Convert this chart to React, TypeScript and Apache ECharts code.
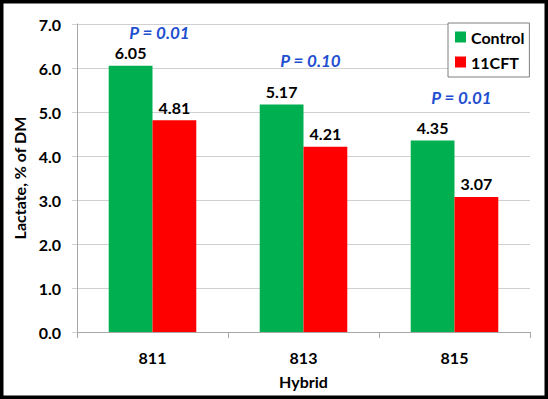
import React, { useEffect, useRef } from "react";
import * as echarts from "echarts";

const categories = ["811", "813", "815"];
const controlValues = [6.05, 5.17, 4.35];
const cftValues = [4.81, 4.21, 3.07];
const pTexts = ["P = 0.01", "P = 0.10", "P = 0.01"];
const pLabelY = [6.8, 6.18, 5.34];
const yTicks = [0, 1, 2, 3, 4, 5, 6, 7];

const FONT = "Lato, 'Open Sans', sans-serif";

export default function App() {
  const ref = useRef<HTMLDivElement>(null);
  useEffect(() => {
    if (!ref.current) return;
    const chart = echarts.init(ref.current, null, { renderer: "svg" });
    chart.setOption({
      animation: false,
      backgroundColor: "#ffffff",
      textStyle: { fontFamily: FONT },
      graphic: [
        {
          type: "rect",
          z: 100,
          silent: true,
          shape: { x: 0, y: 0, width: 548, height: 399 },
          style: { fill: "none", stroke: "#000", lineWidth: 7 },
        },
      ],
      grid: { left: 77, right: 18, top: 24, bottom: 67 },
      legend: {
        data: ["Control", "11CFT"],
        orient: "vertical",
        left: 448,
        top: 23,
        padding: [6, 5, 7, 7],
        itemWidth: 11,
        itemHeight: 11,
        itemGap: 9,
        borderColor: "#7f7f7f",
        borderWidth: 1,
        backgroundColor: "#fff",
        icon: "rect",
        textStyle: { fontFamily: FONT, fontSize: 16, fontWeight: "bold", color: "#000", lineHeight: 16 },
      },
      xAxis: {
        type: "category",
        data: categories,
        name: "Hybrid",
        nameLocation: "middle",
        nameGap: 41,
        nameTextStyle: { fontFamily: FONT, fontSize: 16, fontWeight: "bold", color: "#000" },
        axisLine: { lineStyle: { color: "#a6a6a6" } },
        axisTick: { show: true, length: 6, alignWithLabel: false, lineStyle: { color: "#a6a6a6" } },
        axisLabel: { fontFamily: FONT, fontSize: 16, fontWeight: "bold", color: "#000", margin: 17 },
      },
      yAxis: {
        type: "value",
        min: yTicks[0],
        max: yTicks[yTicks.length - 1],
        interval: 1,
        name: "Lactate, % of DM",
        nameLocation: "middle",
        nameGap: 50,
        nameTextStyle: { fontFamily: FONT, fontSize: 16, fontWeight: "bold", color: "#000" },
        axisLine: { show: true, lineStyle: { color: "#a6a6a6" } },
        axisTick: { show: true, length: 5, lineStyle: { color: "#d0d0d0" } },
        splitLine: { show: true, lineStyle: { color: "#d0d0d0" } },
        axisLabel: {
          fontFamily: FONT,
          fontSize: 16,
          fontWeight: "bold",
          color: "#000",
          margin: 16,
          formatter: (v: number) => v.toFixed(1),
        },
      },
      series: [
        {
          name: "Control",
          type: "bar",
          data: controlValues,
          barGap: "0%",
          barCategoryGap: "42%",
          itemStyle: { color: "#00b050" },
          label: {
            show: true,
            position: "top",
            distance: 5,
            fontFamily: FONT,
            fontSize: 16,
            fontWeight: "bold",
            color: "#000",
            formatter: (p: any) => p.value.toFixed(2),
          },
        },
        {
          name: "11CFT",
          type: "bar",
          data: cftValues,
          itemStyle: { color: "#ff0000" },
          label: {
            show: true,
            position: "top",
            distance: 5,
            fontFamily: FONT,
            fontSize: 16,
            fontWeight: "bold",
            color: "#000",
            formatter: (p: any) => p.value.toFixed(2),
          },
        },
        {
          name: "P",
          type: "scatter",
          data: pLabelY,
          symbolSize: 0,
          z: 5,
          itemStyle: { color: "#2050c8", opacity: 1 },
          label: {
            show: true,
            position: "inside",
            offset: [7, 0],
            fontFamily: FONT,
            fontSize: 17,
            fontWeight: "bold",
            fontStyle: "italic",
            color: "#1f4fd0",
            opacity: 1,
            formatter: (p: any) => pTexts[p.dataIndex],
          },
        },
      ],
    });
    return () => chart.dispose();
  }, []);
  return (
    <div
      ref={ref}
      style={{ position: "fixed", left: 0, top: 0, width: 548, height: 399 }}
    />
  );
}
